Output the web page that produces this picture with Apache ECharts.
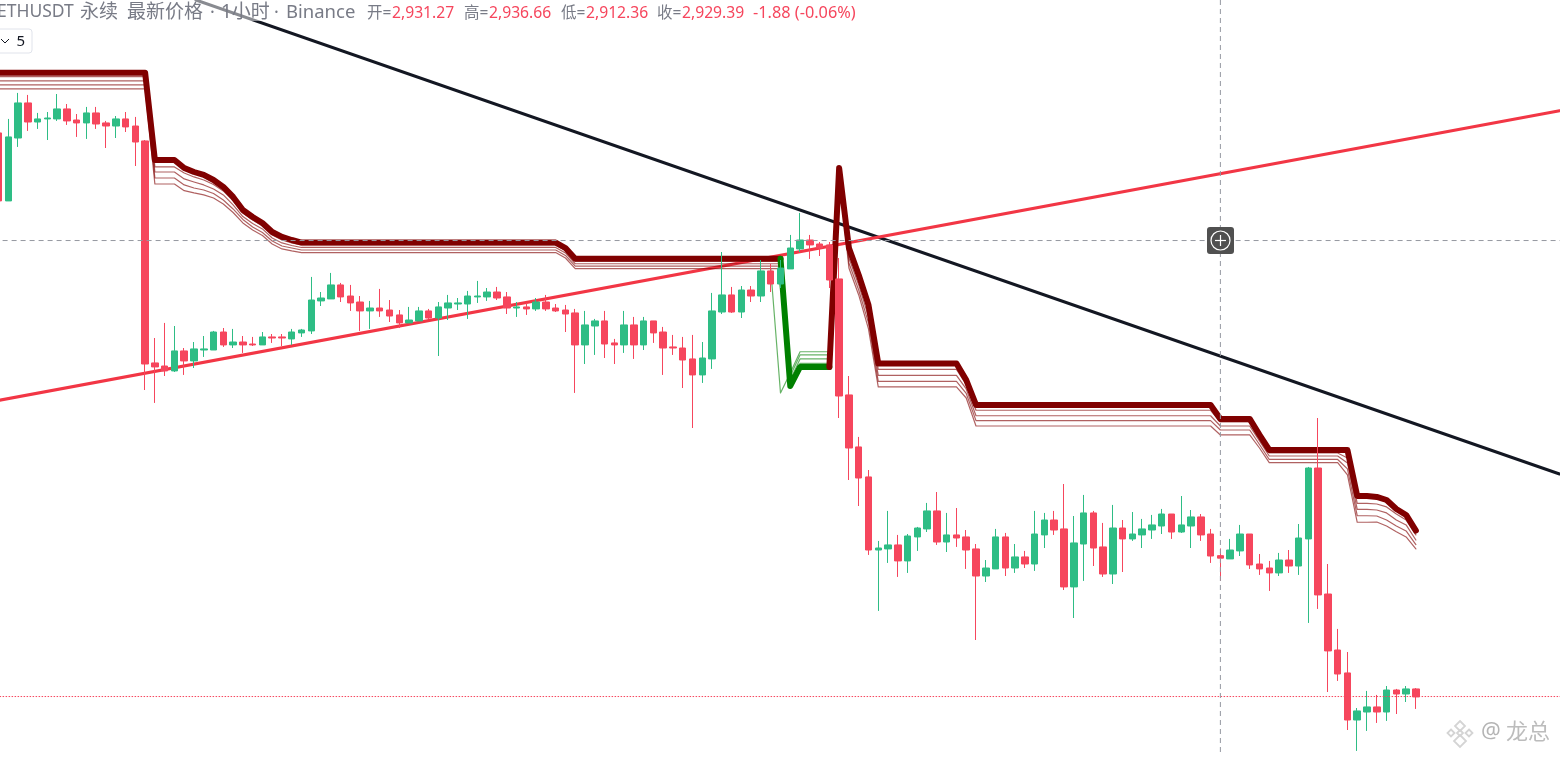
<!DOCTYPE html>
<html><head><meta charset="utf-8">
<style>html,body{margin:0;padding:0;background:#fff}#c{width:1560px;height:757px}</style>
<script src="https://cdn.jsdelivr.net/npm/echarts@6/dist/echarts.min.js"></script>
</head><body><div id="c"></div>
<script>
const opens=[3248.3,3197.3,3244.5,3270.8,3256.5,3258.8,3258.8,3266.3,3258,3255.8,
3263.3,3255.8,3253.5,3258.8,3253.5,3242.3,3075.8,3073.5,3069.8,3084.8,
3077.3,3085.5,3085.5,3099,3089.3,3091.5,3090,3089.3,3095.3,3095.3,
3093.8,3098.3,3099.8,3122.3,3123.8,3134.3,3126,3121.5,3114.8,3117,
3115.5,3111.8,3105.8,3107.3,3114.8,3109.5,3117,3120,3120,3125.3,
3125.3,3129,3125.3,3117,3117.8,3116.3,3121.5,3117,3115.5,3113.3,
3089.3,3103.5,3107.3,3090.8,3089.3,3104.3,3089.3,3107.3,3099,3087.8,
3087,3078.8,3066.8,3078.8,3114,3126.8,3114,3130.5,3126,3144.8,
3135,3146.3,3161.3,3168,3165,3164.3,3138.8,3051.8,3012.8,2990.3,
2935.5,2936.3,2939.3,2927.3,2945.3,2951.3,2964.8,2941.5,2946.8,2945.3,
2936.3,2916,2921.3,2945.3,2922,2930.3,2925,2946.8,2958,2951.3,
2907.8,2940,2963.3,2937.8,2917.5,2952,2943.8,2946.8,2950.5,2953.5,
2962.5,2949,2953.5,2960.3,2947.5,2931.27,2928.8,2934.8,2947.5,2925,
2922,2918.3,2928,2923.5,2943.8,2997,2902.5,2860.5,2843.3,2808,
2814,2817.8,2814,2830.5,2827.5,2831.3];
const closes=[3197.3,3245.3,3270.8,3256.5,3258.8,3259.5,3266.3,3257.3,3255.8,3263.3,
3255,3253.5,3258.8,3252.8,3241.5,3075,3072.8,3069.8,3084.8,3077.3,
3086.3,3086.3,3099,3089.3,3091.5,3089.3,3089.3,3095.3,3094.5,3094.5,
3099,3100.5,3123,3124.5,3134.3,3125.3,3120.8,3114.8,3117,3114.8,
3111,3105.8,3108,3114.8,3109.5,3117.8,3120.8,3120.8,3126,3126,
3129,3124.5,3117,3117.8,3116.3,3121.5,3116.3,3114.8,3112.5,3089.3,
3104.3,3107.3,3090,3089.3,3104.3,3089.3,3107.3,3098.3,3087,3087,
3078,3066.8,3079.5,3114.8,3126.8,3114,3130.5,3126,3144.8,3135,
3147,3162,3168,3164.3,3162,3138,3051,3012,2989.5,2935.5,
2937,2939.3,2927.3,2946,2952,2964.8,2941.5,2946.8,2944.5,2935.5,
2916,2922,2945.3,2922,2930.3,2925,2947.5,2958,2950.5,2907.8,
2940.8,2963.3,2937,2917.5,2952,2943.8,2947.5,2951.3,2954.3,2962.5,
2949,2954.3,2960.3,2946.8,2931,2929.39,2935.5,2947.5,2924.3,2921.3,
2918.3,2928,2923.5,2944.5,2997,2901.8,2859.8,2842.5,2808,2814.8,
2817.8,2814,2830.5,2827.5,2831.3,2825.3];
const lows=[3197.3,3197.3,3237.8,3249.8,3251.3,3243,3257.3,3254.3,3245.3,3243.8,
3251.3,3237,3244.5,3249,3223.5,3055.5,3045.8,3066,3069,3066.8,
3072,3080.3,3085.5,3087.8,3087,3083.3,3088.5,3089.3,3090.8,3088.5,
3089.3,3095.3,3097.5,3118.5,3123.8,3121.5,3114.8,3099.8,3101.3,3110.3,
3106.5,3102,3105.8,3107.3,3108.8,3081,3108,3115.5,3108.8,3120.8,
3122.3,3123,3112.5,3110.3,3111.8,3114.8,3114.8,3114,3099,3053.3,
3075,3081.8,3079.5,3075,3083.3,3078.8,3085.5,3090.8,3066.8,3081.8,
3057,3027,3060.8,3071.3,3112.5,3113.3,3109.5,3121.5,3121.5,3129,
3132,3146.3,3159,3153.8,3156,3132,3034.5,2988,2968.5,2931.8,
2889.8,2925.8,2915.3,2918.3,2934.8,2949,2939.3,2934,2937.8,2921.3,
2868,2911.5,2921.3,2916,2918.3,2922,2919.8,2937,2946.8,2905.5,
2884.5,2912.3,2923.5,2915.3,2910,2919,2942.3,2937,2943.8,2947.5,
2943.8,2948.3,2937,2942.3,2925.8,2912.36,2928.8,2931,2921.3,2916.8,
2904.8,2916,2918.3,2916.8,2880.8,2891.3,2829,2837.3,2800.5,2784.8,
2799.8,2805.8,2807.3,2812.5,2821.5,2816.3];
const highs=[3248.3,3258.8,3278.3,3276.8,3263.3,3264,3277.5,3270,3262.5,3267.8,
3267.8,3257.3,3261,3264,3260.3,3243,3094.5,3105.8,3103.5,3087,
3091.5,3096,3099.8,3102,3101.3,3096,3095.3,3099,3097.5,3097.5,
3101.3,3101.3,3140.3,3129,3143.3,3135.8,3134.3,3126,3122.3,3131.3,
3123,3115.5,3117.8,3117.8,3116.3,3121.5,3126.8,3124.5,3129.8,3137.3,
3132,3132.8,3129,3121.5,3120.8,3124.5,3126.8,3120,3119.3,3116.3,
3114.8,3108.8,3114.8,3093.8,3114.8,3110.3,3110.3,3107.3,3102.8,3096.8,
3095.3,3096.8,3091.5,3128.3,3159,3132.8,3133.5,3133.5,3153,3150,
3153,3171.8,3188.3,3171.8,3166.5,3166.5,3154.5,3066,3020.3,2995.5,
2942.3,2964.8,2946.8,2947.5,2952.8,2970.8,2979,2963.3,2967,2950.5,
2940,2928,2951.3,2948.3,2940,2934.8,2964.8,2963.3,2964.8,2985,
2961,2976.8,2964.8,2955.8,2969.3,2958,2964,2958.8,2961.8,2966.3,
2962.5,2976,2965.5,2962.5,2951.3,2936.66,2943.8,2954.3,2947.5,2932.5,
2927.3,2933.3,2935.5,2955,2997.8,3034.5,2925,2876.3,2859,2817,
2829.8,2826.8,2833.5,2831.3,2833.5,2832];

const bandIdxA=[0,15,16,18,19,20,21,22,23,24,25,26,27,28,29,30,31,57,58,59,80];
const bandA0=[3293.5,3293.5,3228,3228,3222,3219,3216.8,3213,3207.8,3200.3,3190.5,3185.3,3180.8,3174,3170.3,3168,3166.1,3166.1,3162,3154,3154];
const bandA1=[3290.5,3290.5,3222.8,3222.8,3218.3,3215.3,3213,3209.6,3204.8,3197.3,3188.3,3183,3178.5,3171.8,3168,3165.8,3164.3,3164.3,3160.1,3152.1,3152.1];
const bandA2=[3287.3,3287.3,3219,3219,3213.8,3211.5,3209.3,3206.3,3201.8,3194.3,3185.6,3180.4,3176.3,3169.5,3165.8,3163.9,3162.4,3162.4,3158.3,3150.2,3150.2];
const bandA3=[3284.3,3284.3,3214.5,3214.5,3209.3,3207,3205.5,3202.9,3198,3191.3,3183.4,3177.8,3173.6,3167.3,3163.5,3162,3160.5,3160.5,3156.4,3148.4,3148.4];
const bandA4=[3281.3,3281.3,3210,3210,3205,3203.3,3201.8,3199.5,3195,3188.6,3180.8,3175.5,3171.4,3165,3161.3,3159.8,3158.6,3158.6,3154.5,3146.5,3146.5];

const bandIdxG=[79,80,81,82,85];
const bandG0=[null,3154,3058.5,3072.8,3072.8];
const bandG1=[null,3151.5,3060.8,3075.5,3075.5];
const bandG2=[null,3148.5,3063,3078.8,3078.8];
const bandG3=[null,3145.5,3066,3081.8,3081.8];
const bandG4=[3146.3,3053.3,3068.3,3084.2,3084.2];

const bandIdxB=[85,86,87,88,89,90,98,99,100,124,125,128,129,130,137,138,139,140,141,142,143,144,145];
const bandB0=[3072.8,3222,3162,3141.8,3119.3,3075.4,3075.4,3063,3044.3,3044.3,3033.8,3033.8,3021.8,3010.5,3010.5,3010.5,2976,2976,2975.3,2973,2966.3,2961.8,2950.1];
const bandB1=[3072.8,3220.5,3158.3,3138,3114.8,3071,3071,3059.6,3040.3,3040.3,3031.5,3031.5,3019.5,3008.3,3008.3,3004.5,2970.5,2970.5,2970,2967.8,2962.5,2958,2946.8];
const bandB2=[3072.8,3219,3154.5,3134.3,3110.3,3066.5,3066.5,3056.3,3036.2,3036.2,3028.5,3028.5,3017.3,3006,3006,3000.8,2966,2966,2965.5,2963.3,2958,2954.3,2943];
const bandB3=[3072.8,3217.5,3150.8,3130.5,3105.8,3062,3062,3052.9,3032.5,3032.5,3025.5,3025.5,3014.6,3003.4,3003.4,2996.3,2961.2,2961.2,2961,2958,2953.5,2949.8,2939.6];
const bandB4=[3072.8,3216,3147,3126.8,3101.3,3057.8,3057.8,3049.5,3028.5,3028.5,3021.8,3021.8,3012,3001,3001,2991.8,2956.3,2956.3,2956.5,2953.5,2949.2,2945.3,2936.3];

const blackTrendIdx=[20.2,159.7];
const blackTrend=[3348,2992.5];
const redTrendIdx=[-0.5,159.7];
const redTrend=[3047,3265];
const crossIdx=125;
const crossPrice=3167.6;
const lastPrice=2825.6;

const xMin=-0.5,xMax=160.5,yMin=2780.25,yMax=3348;
const categories=[];
for(let i=0;i<161;i++)categories.push(String(i));
const ohlc=opens.map((o,i)=>[o,closes[i],lows[i],highs[i]]);
const zip=(xs,ys)=>xs.map((x,i)=>[x,ys[i]]);
const RED='#F6465D',GREEN='#2EBD85',GRAY='#787B86';

const lineS=(xs,ys,color,width,z,extra)=>({type:'line',xAxisIndex:1,yAxisIndex:0,data:zip(xs,ys),
  symbol:'none',silent:true,z:z,animation:false,connectNulls:false,
  lineStyle:Object.assign({color:color,width:width,cap:'round',join:'round'},extra||{})});

const THIN='rgba(128,0,0,0.62)',THING='rgba(0,128,0,0.6)';
const series=[
 lineS(blackTrendIdx,blackTrend,'#131722',3,3),
 lineS(redTrendIdx,redTrend,'#F23645',3,4),
 lineS(bandIdxA,bandA1,THIN,1.2,5),lineS(bandIdxA,bandA2,THIN,1.2,5),lineS(bandIdxA,bandA3,THIN,1.2,5),lineS(bandIdxA,bandA4,THIN,1.2,5),
 lineS(bandIdxB,bandB1,THIN,1.2,5),lineS(bandIdxB,bandB2,THIN,1.2,5),lineS(bandIdxB,bandB3,THIN,1.2,5),lineS(bandIdxB,bandB4,THIN,1.2,5),
 lineS(bandIdxG,bandG1,THING,1.2,5),lineS(bandIdxG,bandG2,THING,1.2,5),lineS(bandIdxG,bandG3,THING,1.2,5),lineS(bandIdxG,bandG4,THING,1.2,5),
 lineS(bandIdxA,bandA0,'#800000',6,6),
 lineS(bandIdxG,bandG0,'#008000',6,6),
 lineS(bandIdxB,bandB0,'#800000',6,6),
 {type:'candlestick',xAxisIndex:0,yAxisIndex:0,data:ohlc,barWidth:7,z:8,silent:true,animation:false,
  itemStyle:{color:GREEN,color0:RED,borderColor:GREEN,borderColor0:RED,borderWidth:1}},
 lineS([xMin,xMax],[lastPrice,lastPrice],RED,1,9,{type:[1.5,1.5],cap:'butt'}),
 lineS([xMin,xMax],[crossPrice,crossPrice],'#9598A1',1,9,{type:[5,4],cap:'butt'}),
 lineS([crossIdx,crossIdx],[3348,2783],'#9598A1',1,9,{type:[5,4],cap:'butt'})
];

const FONT='"Noto Sans","Noto Sans CJK SC",sans-serif';
const txt=(x,y,s,fill,size,w)=>({type:'text',z:30,silent:true,style:{x:x,y:y,text:s,fill:fill,font:(w||'normal')+' '+size+'px '+FONT,textVerticalAlign:'middle'}});
const diamond=(cx,cy,r)=>({type:'polygon',z:30,silent:true,shape:{points:[[cx,cy-r],[cx+r,cy],[cx,cy+r],[cx-r,cy]]},style:{fill:'none',stroke:'#d4d4d4',lineWidth:1.8}});
const graphic=[
 {type:'rect',z:20,silent:true,shape:{x:0,y:0,width:870,height:21},style:{fill:'rgba(255,255,255,0.5)'}},
 txt(-3,12.5,'ETHUSDT',GRAY,17.5),
 txt(80,12.5,'永续',GRAY,19),
 txt(127,12.5,'最新价格',GRAY,19),
 txt(210,12.5,'·',GRAY,18),
 txt(221,12.5,'1小时',GRAY,19),
 txt(274,12.5,'·',GRAY,18),
 txt(286,12.5,'Binance',GRAY,18.5),
 txt(367,13.5,'开=',GRAY,15.5),txt(392,13.5,'2,931.27',RED,15.7),
 txt(464,13.5,'高=',GRAY,15.5),txt(489,13.5,'2,936.66',RED,15.7),
 txt(561,13.5,'低=',GRAY,15.5),txt(586,13.5,'2,912.36',RED,15.7),
 txt(657,13.5,'收=',GRAY,15.5),txt(682,13.5,'2,929.39',RED,15.7),
 txt(753,13.5,'-1.88 (-0.06%)',RED,16.3),
 {type:'rect',z:20,silent:true,shape:{x:-6,y:29,width:38,height:24,r:3},style:{fill:'#fff',stroke:'#E0E3EB',lineWidth:1}},
 {type:'polyline',z:30,silent:true,shape:{points:[[1,39],[5,43],[9,39]]},style:{fill:'none',stroke:'#131722',lineWidth:1}},
 txt(16.5,41.5,'5','#131722',15),
 {type:'rect',z:30,silent:true,shape:{x:1207,y:227,width:27,height:27,r:3},style:{fill:'#505050'}},
 {type:'circle',z:31,silent:true,shape:{cx:1220.5,cy:240.5,r:9.5},style:{fill:'none',stroke:'#fff',lineWidth:1.2}},
 {type:'line',z:31,silent:true,shape:{x1:1215,y1:240.5,x2:1226,y2:240.5},style:{stroke:'#fff',lineWidth:1.2}},
 {type:'line',z:31,silent:true,shape:{x1:1220.5,y1:235,x2:1220.5,y2:246},style:{stroke:'#fff',lineWidth:1.2}},
 diamond(1460,726,5),diamond(1451,733,3.5),diamond(1469,733,3.5),diamond(1460,733,3),diamond(1460,741,6),
 txt(1481,732,'@','#b4b4b4',22),
 txt(1506,733,'龙总','#bcbcbc',22)
];

const chart=echarts.init(document.getElementById('c'),null,{renderer:'canvas'});
chart.setOption({
 animation:false,backgroundColor:'#fff',tooltip:{show:false},legend:{show:false},
 grid:{left:-6.4,right:-7.4,top:0,bottom:0,containLabel:false,outerBoundsMode:'none'},
 xAxis:[{type:'category',data:categories,boundaryGap:true,show:false},
        {type:'value',min:xMin,max:xMax,show:false,splitLine:{show:false}}],
 yAxis:[{type:'value',min:yMin,max:yMax,show:false,scale:true,splitLine:{show:false}}],
 series:series,graphic:graphic
});
</script></body></html>
